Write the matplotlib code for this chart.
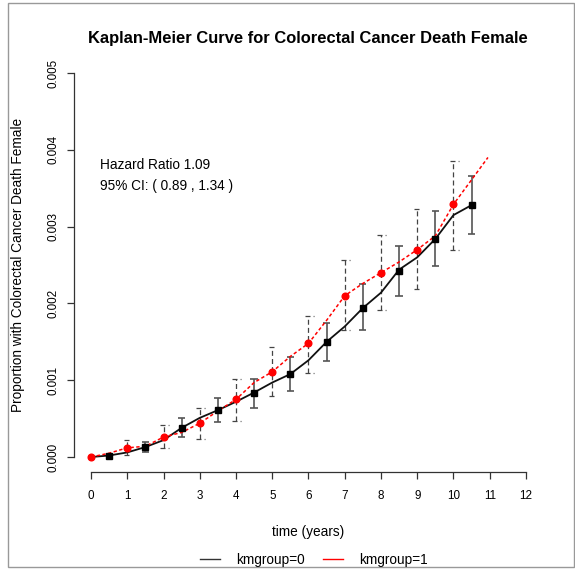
import matplotlib
matplotlib.use("Agg")
import matplotlib.pyplot as plt
from matplotlib.lines import Line2D
from matplotlib.patches import Rectangle

plt.rcParams["font.family"] = ["Liberation Sans", "DejaVu Sans"]

# KM estimates with 95% bounds, group 0 (plotted at half-years)
years_km0 = [0.5, 1.5, 2.5, 3.5, 4.5, 5.5, 6.5, 7.5, 8.5, 9.5, 10.5]
est_km0 = [0.00002, 0.000135, 0.00038, 0.00061, 0.00084, 0.00108,
           0.0015, 0.00194, 0.00242, 0.00284, 0.00328]
lo_km0 = [0.00001, 0.00006, 0.00026, 0.00045, 0.00064, 0.00086,
          0.00125, 0.00165, 0.0021, 0.00249, 0.0029]
hi_km0 = [0.00004, 0.0002, 0.00051, 0.00077, 0.00102, 0.0013,
          0.00175, 0.00225, 0.00275, 0.0032, 0.00366]

# group 1 (plotted at whole years)
years_km1 = [0, 1, 2, 3, 4, 5, 6, 7, 8, 9, 10]
est_km1 = [0.0, 0.00012, 0.00026, 0.00044, 0.00075, 0.00111,
           0.00148, 0.0021, 0.0024, 0.0027, 0.00329]
lo_km1 = [0.0, 0.00003, 0.00012, 0.00024, 0.00047, 0.00079,
          0.0011, 0.00165, 0.00191, 0.00219, 0.0027]
hi_km1 = [0.0, 0.00022, 0.00042, 0.00064, 0.00101, 0.00143,
          0.00184, 0.00256, 0.00289, 0.00323, 0.00385]

# smoothed cumulative incidence curves
curve_t0 = [0, 0.5, 1, 1.5, 2, 2.5, 3, 3.5, 4, 4.5, 5, 5.5, 6, 6.5, 7,
            7.5, 8, 8.5, 9, 9.5, 10, 10.5]
curve_y0 = [0.0, 0.00002, 0.00006, 0.00013, 0.00022, 0.00038, 0.00051,
            0.00061, 0.00072, 0.00084, 0.00097, 0.00108, 0.00126, 0.0015,
            0.0017, 0.00194, 0.00214, 0.00244, 0.0026, 0.00284, 0.00315,
            0.00328]
curve_t1 = [0, 0.5, 1, 1.5, 2, 2.5, 3, 3.5, 4, 4.5, 5, 5.5, 6, 6.5, 7,
            7.5, 8, 8.5, 9, 9.5, 10, 10.5, 10.95]
curve_y1 = [0.0, 0.00005, 0.00012, 0.00014, 0.00026, 0.00032, 0.00044,
            0.0006, 0.00075, 0.00097, 0.00111, 0.00131, 0.00148, 0.00178,
            0.0021, 0.00226, 0.0024, 0.00254, 0.0027, 0.00288, 0.00329,
            0.00361, 0.0039]

hazard_text = ["Hazard Ratio 1.09", "95% CI: ( 0.89 , 1.34 )"]
x_ticks = list(range(0, 13))
y_ticks = [0.0, 0.001, 0.002, 0.003, 0.004, 0.005]

W, H = 575, 571
fig = plt.figure(figsize=(W / 100, H / 100), dpi=100)
ax = fig.add_axes([73.6 / W, 1 - 472.4 / H, 469.8 / W, 414.8 / H])
ax.set_xlim(-0.48, 12.48)
ax.set_ylim(-0.0002, 0.0052)

axis_col = "#333333"
for side in ("top", "right"):
    ax.spines[side].set_visible(False)
ax.spines["bottom"].set_bounds(0, 12)
ax.spines["left"].set_bounds(0, 0.005)
for side in ("bottom", "left"):
    ax.spines[side].set_color(axis_col)
    ax.spines[side].set_linewidth(0.9)

ax.set_xticks(x_ticks)
ax.set_xticklabels([str(t) for t in x_ticks])
ax.set_yticks(y_ticks)
ax.set_yticklabels([f"{v:.3f}" for v in y_ticks], rotation=90, va="center")
ax.tick_params(axis="both", direction="out", length=5, width=0.9,
               color=axis_col, labelsize=8.4)
ax.tick_params(axis="x", pad=8)
ax.tick_params(axis="y", pad=5)

# curves
ax.plot(curve_t0, curve_y0, color="#111111", lw=1.3, zorder=3)
ax.plot(curve_t1, curve_y1, color="red", lw=1.1, linestyle=(0, (2.2, 1.6)),
        zorder=3)

# error bars
cap = 0.1
for x, lo, hi in zip(years_km0, lo_km0, hi_km0):
    ax.vlines(x, lo, hi, color="#555555", lw=1.2, zorder=2)
    ax.hlines([lo, hi], x - cap, x + cap, color="#555555", lw=1.2, zorder=2)
for x, lo, hi in zip(years_km1, lo_km1, hi_km1):
    if hi <= lo:
        continue
    ax.vlines(x, lo, hi, color="#444444", lw=0.9,
              linestyle=(0, (4, 2.5)), zorder=2)
    ax.hlines([lo, hi], x - cap, x + cap + 0.04, color="#444444", lw=0.9,
              linestyle=(0, (4, 2.5)), zorder=2)

ax.plot(years_km0, est_km0, linestyle="none", marker="s", markersize=4.4,
        color="black", zorder=4)
ax.plot(years_km1, est_km1, linestyle="none", marker="o", markersize=4.8,
        color="red", zorder=4)

ax.text(0.25, 0.0038, hazard_text[0], fontsize=9.8, va="center", ha="left")
ax.text(0.25, 0.00353, hazard_text[1], fontsize=9.8, va="center", ha="left")

fig.text(308 / W, 1 - 38 / H,
         "Kaplan-Meier Curve for Colorectal Cancer Death Female",
         fontsize=11.9, fontweight="bold", ha="center", va="center")
fig.text(308 / W, 1 - 532 / H, "time (years)", fontsize=9.8,
         ha="center", va="center")
fig.text(18 / W, 1 - 265 / H,
         "Proportion with Colorectal Cancer Death Female", fontsize=9.8,
         rotation=90, ha="center", va="center")

handles = [Line2D([], [], color="#333333", lw=1.0),
           Line2D([], [], color="red", lw=1.0)]
fig.legend(handles, ["kmgroup=0", "kmgroup=1"], ncol=2, frameon=False,
           loc="center", bbox_to_anchor=(314 / W, 1 - 560 / H),
           fontsize=9.8, handlelength=1.45, handletextpad=1.2,
           columnspacing=1.3)

# outer frame
fig.patches.append(Rectangle((8 / W, 4 / H), 566 / W, 564 / H,
                             transform=fig.transFigure, fill=False,
                             edgecolor="#999999", lw=1.0))

fig.savefig("out.png", dpi=100)
